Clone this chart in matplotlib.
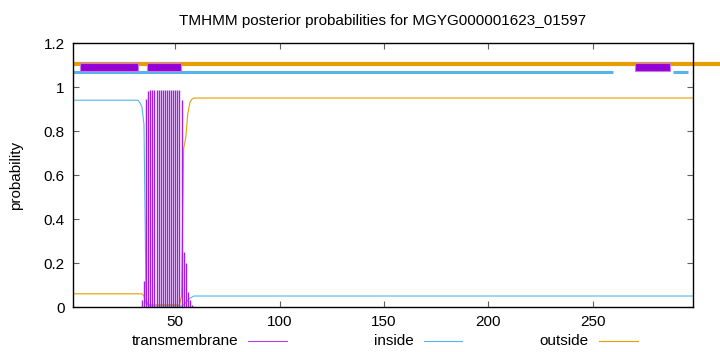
import matplotlib
matplotlib.use("Agg")
import matplotlib.pyplot as plt
from matplotlib.lines import Line2D
from matplotlib.patches import Rectangle
import numpy as np

plt.rcParams['font.family'] = ['Liberation Sans', 'DejaVu Sans']

seq_len = 298

# posterior probabilities, run-length coded: (value, count) from residue 1
inside_runs = [(0.94, 32), (0.93, 1), (0.91, 1), (0.83, 1), (0.03, 1), (0.01, 1),
               (0.005, 16), (0.01, 1), (0.02, 1), (0.03, 1), (0.04, 1), (0.045, 1),
               (0.05, 240)]
outside_runs = [(0.06, 34), (0.05, 1), (0.015, 1), (0.01, 16), (0.05, 1), (0.72, 1),
                (0.77, 1), (0.88, 1), (0.93, 1), (0.945, 1), (0.95, 240)]

# transmembrane impulses (residue, probability)
tm_res = [34, 35, 36, 37, 38, 39, 40, 41, 42, 43, 44, 45, 46, 47, 48, 49, 50,
          51, 52, 53, 54, 55, 56, 57, 58]
tm_prob = [0.03, 0.12, 0.945, 0.98, 0.985, 0.985, 0.985, 0.985, 0.985, 0.985,
           0.985, 0.985, 0.985, 0.985, 0.985, 0.985, 0.985, 0.985, 0.985, 0.94,
           0.25, 0.2, 0.07, 0.03, 0.01]

# predicted topology bars at the top
tm_segments = [(4.4, 32.2), (36.5, 52.9), (270, 287)]
inside_segments = [(1, 259.6), (288.3, 295.5)]
outside_segments = [(1, 320)]

inside = np.concatenate([np.full(n, v) for v, n in inside_runs])
outside = np.concatenate([np.full(n, v) for v, n in outside_runs])
res = np.arange(1, seq_len + 1)

c_tm = '#9400d3'
c_in = '#56b4e9'
c_out = '#e69f00'

fig = plt.figure(figsize=(7.2, 3.52), dpi=100)
ax = fig.add_axes([0.1014, 0.1278, 0.8611, 0.7500])

ax.plot(res, inside, color=c_in, linewidth=0.8)
ax.plot(res, outside, color=c_out, linewidth=0.8)
ax.vlines(tm_res, 0, tm_prob, color='#a020e0', linewidth=1.0)

for a, b in outside_segments:
    ax.plot([a, b], [1.104, 1.104], color=c_out, linewidth=3.0,
            solid_capstyle='butt', clip_on=False)
for a, b in inside_segments:
    ax.plot([a, b], [1.067, 1.067], color=c_in, linewidth=2.2,
            solid_capstyle='butt')
for a, b in tm_segments:
    ax.add_patch(Rectangle((a, 1.074), b - a, 0.036, facecolor=c_tm,
                           edgecolor='#c67be8', linewidth=0.8, zorder=3))

ax.set_xlim(1, seq_len)
ax.set_ylim(0, 1.2)
ax.set_xticks([50, 100, 150, 200, 250])
ax.set_yticks([0, 0.2, 0.4, 0.6, 0.8, 1.0, 1.2])
ax.set_yticklabels(['0', '0.2', '0.4', '0.6', '0.8', '1', '1.2'])
ax.tick_params(direction='in', length=4, width=0.8, color='#606060',
               top=True, right=True, labelsize=11, pad=6)
for s in ax.spines.values():
    s.set_linewidth(1.0)

fig.text(16 / 720, 1 - 175 / 352, 'probability', rotation=90,
         ha='center', va='center', fontsize=11)
fig.text(383 / 720, 1 - 21 / 352,
         'TMHMM posterior probabilities for MGYG000001623_01597',
         ha='center', va='center', fontsize=11)

# legend along the bottom
legend_items = [('transmembrane', '#b040e0', 238, 248, 287),
                ('inside', c_in, 414, 424, 462),
                ('outside', c_out, 589, 599, 638)]
for label, col, tx, x0, x1 in legend_items:
    fig.text(tx / 720, 1 - 341 / 352, label, ha='right', va='center', fontsize=11)
    fig.add_artist(Line2D([x0 / 720, x1 / 720], [1 - 341 / 352] * 2,
                          color=col, linewidth=0.8, transform=fig.transFigure))

fig.savefig('out.png', dpi=100)
